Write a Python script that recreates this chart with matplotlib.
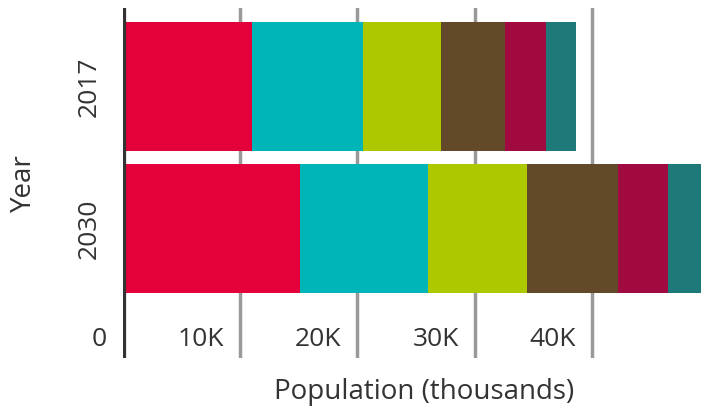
import matplotlib.pyplot as plt
from matplotlib.transforms import blended_transform_factory, ScaledTranslation

plt.rcParams['font.family'] = ['Open Sans', 'DejaVu Sans']

# --- Data (thousands) ---
years = ["2017", "2030"]
seg_2017 = [11.0, 9.45, 6.65, 5.45, 3.5, 2.55]
seg_2030 = [15.1, 10.9, 8.45, 7.75, 4.25, 2.8]
colors = ["#e4003a", "#00b5b8", "#aec800", "#61492a", "#a00a40", "#1d7a79"]
tick_vals = [0, 10, 20, 30, 40]
tick_labels = ["0", "10K", "20K", "30K", "40K"]

fig = plt.figure(figsize=(7.07, 4.13), dpi=100)
ax = fig.add_axes([122.6 / 707, 1 - 358 / 413, (701 - 122.6) / 707, 350 / 413])

segments = [seg_2017, seg_2030]
for i in range(len(colors)):
    vals = [s[i] for s in segments]
    lefts = [sum(s[:i]) for s in segments]
    ax.barh(range(len(years)), vals, left=lefts, height=0.908,
            color=colors[i], zorder=3)

ax.set_xlim(0, (701 - 122.6) / 11.74)
ax.set_ylim(1.912, -0.553)

# gridlines
for v in tick_vals[1:]:
    ax.axvline(v, color="#999999", lw=2.5, zorder=1)
ax.axvline(0, color="#333333", lw=4.5, zorder=4)

for s in ax.spines.values():
    s.set_visible(False)
ax.set_xticks([])
ax.set_yticks(range(len(years)))
ax.set_yticklabels(years, rotation=90, va="center", fontsize=19, color="#333333")
ax.tick_params(axis="y", length=0, pad=15)

# tick labels inside the axes, left of each gridline
trans = blended_transform_factory(ax.transData, ax.transAxes)
for v, lab in zip(tick_vals, tick_labels):
    off = ScaledTranslation(-0.16, 0, fig.dpi_scale_trans)
    ax.text(v, 18 / 350, lab, transform=trans + off, ha="right", va="center",
            fontsize=19, color="#333333")

fig.text(424.5 / 707, 1 - 392 / 413, "Population (thousands)", ha="center",
         va="center", fontsize=20, color="#333333")
fig.text(24 / 707, 1 - 183 / 413, "Year", ha="center", va="center",
         rotation=90, fontsize=20, color="#333333")

fig.savefig("out.png", dpi=100)
